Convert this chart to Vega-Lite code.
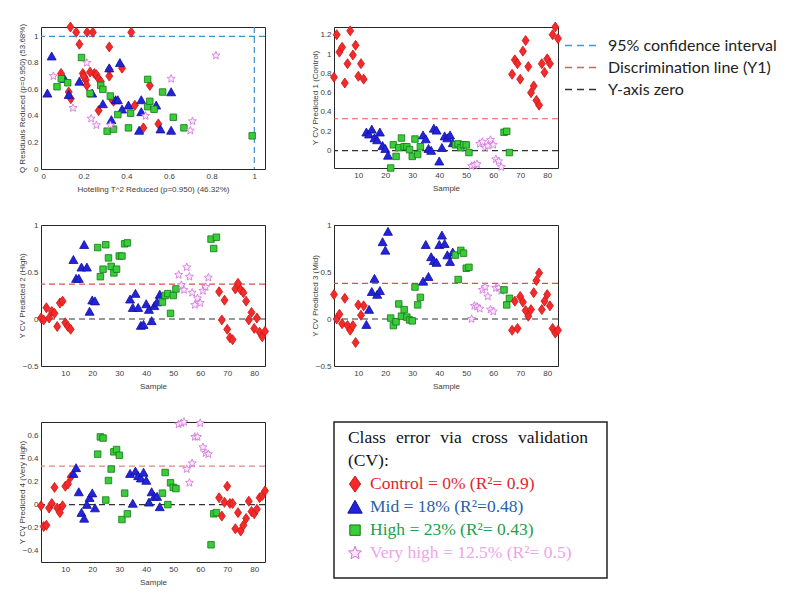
{
  "$schema": "https://vega.github.io/schema/vega-lite/v6.json",
  "padding": {"left": 17, "top": 19, "right": 0, "bottom": 0},
  "background": "white",
  "config": {
    "font": "Liberation Sans",
    "numberFormat": ".2~f",
    "view": {"stroke": "#262626", "strokeWidth": 1},
    "axis": {"grid": false, "domain": false, "ticks": false, "labelFontSize": 8, "titleFontSize": 8, "labelColor": "#404040", "titleColor": "#404040", "titleFontWeight": "normal", "labelPadding": 3},
    "axisX": {"titlePadding": 5},
    "axisY": {"minExtent": 14, "maxExtent": 14, "titlePadding": 1},
    "point": {"filled": true, "opacity": 1, "strokeWidth": 0.8, "size": 100}
  },
  "datasets": {
    "samples": [
      {"sample": 1, "cls": "Control", "p1": 0.76, "p2": 0.01, "p3": 0.26, "p4": -0.01},
      {"sample": 2, "cls": "Control", "p1": 1.20, "p2": -0.01, "p3": 0.00, "p4": -0.19},
      {"sample": 3, "cls": "Control", "p1": 1.02, "p2": 0.12, "p3": 0.05, "p4": -0.18},
      {"sample": 4, "cls": "Control", "p1": 1.07, "p2": 0.01, "p3": -0.05, "p4": -0.03},
      {"sample": 5, "cls": "Control", "p1": 0.70, "p2": 0.08, "p3": 0.22, "p4": 0.01},
      {"sample": 6, "cls": "Control", "p1": 0.90, "p2": 0.06, "p3": -0.07, "p4": 0.15},
      {"sample": 7, "cls": "Control", "p1": 1.24, "p2": -0.08, "p3": -0.12, "p4": -0.03},
      {"sample": 8, "cls": "Control", "p1": 0.99, "p2": 0.17, "p3": -0.07, "p4": -0.07},
      {"sample": 9, "cls": "Control", "p1": 1.09, "p2": 0.19, "p3": -0.25, "p4": -0.01},
      {"sample": 10, "cls": "Control", "p1": 0.77, "p2": -0.04, "p3": 0.15, "p4": 0.16},
      {"sample": 11, "cls": "Control", "p1": 0.90, "p2": -0.08, "p3": 0.04, "p4": 0.18},
      {"sample": 12, "cls": "Control", "p1": 0.74, "p2": -0.11, "p3": 0.14, "p4": 0.24},
      {"sample": 13, "cls": "Mid", "p1": 0.19, "p2": 0.63, "p3": -0.06, "p4": 0.27},
      {"sample": 14, "cls": "Mid", "p1": 0.17, "p2": 0.43, "p3": 0.10, "p4": 0.32},
      {"sample": 15, "cls": "Mid", "p1": 0.22, "p2": 0.43, "p3": 0.29, "p4": 0.11},
      {"sample": 16, "cls": "Mid", "p1": 0.13, "p2": 0.55, "p3": 0.43, "p4": -0.07},
      {"sample": 17, "cls": "Mid", "p1": 0.11, "p2": 0.79, "p3": 0.26, "p4": -0.12},
      {"sample": 18, "cls": "Mid", "p1": 0.19, "p2": 0.55, "p3": 0.30, "p4": 0.00},
      {"sample": 19, "cls": "Mid", "p1": 0.05, "p2": 0.08, "p3": 0.82, "p4": 0.06},
      {"sample": 20, "cls": "Mid", "p1": 0.02, "p2": 0.20, "p3": 0.73, "p4": 0.10},
      {"sample": 21, "cls": "Mid", "p1": -0.05, "p2": 0.19, "p3": 0.93, "p4": -0.03},
      {"sample": 22, "cls": "High", "p1": -0.18, "p2": 0.76, "p3": 0.01, "p4": 0.44},
      {"sample": 23, "cls": "High", "p1": 0.06, "p2": 0.45, "p3": -0.07, "p4": 0.59},
      {"sample": 24, "cls": "High", "p1": -0.06, "p2": 0.53, "p3": -0.03, "p4": 0.58},
      {"sample": 25, "cls": "High", "p1": 0.03, "p2": 0.79, "p3": 0.16, "p4": 0.04},
      {"sample": 26, "cls": "High", "p1": 0.13, "p2": 0.65, "p3": 0.03, "p4": 0.21},
      {"sample": 27, "cls": "High", "p1": 0.04, "p2": 0.56, "p3": 0.10, "p4": 0.31},
      {"sample": 28, "cls": "High", "p1": 0.04, "p2": 0.49, "p3": 0.02, "p4": 0.46},
      {"sample": 29, "cls": "High", "p1": 0.01, "p2": 0.53, "p3": -0.01, "p4": 0.48},
      {"sample": 30, "cls": "High", "p1": -0.06, "p2": 0.67, "p3": -0.02, "p4": 0.43},
      {"sample": 31, "cls": "High", "p1": 0.12, "p2": 0.67, "p3": 0.34, "p4": -0.13},
      {"sample": 32, "cls": "High", "p1": -0.04, "p2": 0.80, "p3": 0.15, "p4": 0.10},
      {"sample": 33, "cls": "High", "p1": 0.04, "p2": 0.81, "p3": 0.23, "p4": -0.08},
      {"sample": 34, "cls": "Mid", "p1": 0.16, "p2": 0.21, "p3": 0.40, "p4": 0.27},
      {"sample": 35, "cls": "Mid", "p1": 0.12, "p2": 0.12, "p3": 0.79, "p4": 0.01},
      {"sample": 36, "cls": "Mid", "p1": 0.02, "p2": 0.27, "p3": 0.45, "p4": 0.29},
      {"sample": 37, "cls": "Mid", "p1": 0.00, "p2": 0.12, "p3": 0.66, "p4": 0.25},
      {"sample": 38, "cls": "Mid", "p1": 0.23, "p2": -0.07, "p3": 0.62, "p4": 0.23},
      {"sample": 39, "cls": "Mid", "p1": 0.21, "p2": -0.06, "p3": 0.60, "p4": 0.28},
      {"sample": 40, "cls": "Mid", "p1": -0.11, "p2": 0.16, "p3": 0.79, "p4": 0.21},
      {"sample": 41, "cls": "Mid", "p1": 0.03, "p2": 0.10, "p3": 0.89, "p4": 0.02},
      {"sample": 42, "cls": "Mid", "p1": 0.15, "p2": -0.02, "p3": 0.80, "p4": 0.11},
      {"sample": 43, "cls": "Mid", "p1": 0.13, "p2": 0.14, "p3": 0.68, "p4": 0.07},
      {"sample": 44, "cls": "Mid", "p1": 0.16, "p2": 0.18, "p3": 0.61, "p4": 0.07},
      {"sample": 45, "cls": "Mid", "p1": 0.08, "p2": 0.26, "p3": 0.71, "p4": -0.02},
      {"sample": 46, "cls": "High", "p1": 0.06, "p2": 0.18, "p3": 0.68, "p4": 0.10},
      {"sample": 47, "cls": "High", "p1": 0.07, "p2": 0.25, "p3": 0.42, "p4": 0.28},
      {"sample": 48, "cls": "High", "p1": 0.03, "p2": 0.27, "p3": 0.73, "p4": 0.00},
      {"sample": 49, "cls": "High", "p1": 0.06, "p2": 0.06, "p3": 0.70, "p4": 0.19},
      {"sample": 50, "cls": "High", "p1": 0.06, "p2": 0.25, "p3": 0.54, "p4": 0.15},
      {"sample": 51, "cls": "High", "p1": -0.02, "p2": 0.32, "p3": 0.55, "p4": 0.14},
      {"sample": 52, "cls": "Very high", "p1": -0.16, "p2": 0.47, "p3": 0.00, "p4": 0.70},
      {"sample": 53, "cls": "Very high", "p1": -0.15, "p2": 0.36, "p3": 0.14, "p4": 0.71},
      {"sample": 54, "cls": "Very high", "p1": -0.14, "p2": 0.31, "p3": 0.13, "p4": 0.72},
      {"sample": 55, "cls": "Very high", "p1": 0.07, "p2": 0.55, "p3": 0.11, "p4": 0.31},
      {"sample": 56, "cls": "Very high", "p1": 0.09, "p2": 0.45, "p3": 0.31, "p4": 0.19},
      {"sample": 57, "cls": "Very high", "p1": 0.03, "p2": 0.28, "p3": 0.34, "p4": 0.36},
      {"sample": 58, "cls": "Very high", "p1": 0.05, "p2": 0.15, "p3": 0.24, "p4": 0.59},
      {"sample": 59, "cls": "Very high", "p1": 0.11, "p2": 0.22, "p3": 0.10, "p4": 0.59},
      {"sample": 60, "cls": "Very high", "p1": 0.06, "p2": 0.17, "p3": 0.08, "p4": 0.71},
      {"sample": 61, "cls": "Very high", "p1": -0.09, "p2": 0.30, "p3": 0.33, "p4": 0.50},
      {"sample": 62, "cls": "Very high", "p1": -0.11, "p2": 0.34, "p3": 0.33, "p4": 0.45},
      {"sample": 63, "cls": "Very high", "p1": -0.17, "p2": 0.44, "p3": 0.30, "p4": 0.44},
      {"sample": 64, "cls": "High", "p1": 0.19, "p2": 0.85, "p3": 0.31, "p4": -0.35},
      {"sample": 65, "cls": "High", "p1": 0.20, "p2": 0.75, "p3": 0.15, "p4": -0.08},
      {"sample": 66, "cls": "High", "p1": -0.02, "p2": 0.87, "p3": 0.22, "p4": -0.07},
      {"sample": 67, "cls": "Control", "p1": 0.79, "p2": 0.29, "p3": -0.12, "p4": 0.06},
      {"sample": 68, "cls": "Control", "p1": 0.94, "p2": -0.01, "p3": 0.19, "p4": -0.10},
      {"sample": 69, "cls": "Control", "p1": 0.90, "p2": 0.20, "p3": -0.10, "p4": 0.02},
      {"sample": 70, "cls": "Control", "p1": 0.74, "p2": -0.11, "p3": 0.24, "p4": 0.16},
      {"sample": 71, "cls": "Control", "p1": 1.03, "p2": -0.20, "p3": 0.18, "p4": 0.01},
      {"sample": 72, "cls": "Control", "p1": 1.14, "p2": -0.22, "p3": 0.09, "p4": 0.01},
      {"sample": 73, "cls": "Control", "p1": 0.87, "p2": 0.32, "p3": 0.03, "p4": -0.21},
      {"sample": 74, "cls": "Control", "p1": 0.60, "p2": 0.38, "p3": 0.10, "p4": -0.07},
      {"sample": 75, "cls": "Control", "p1": 0.67, "p2": 0.31, "p3": 0.28, "p4": -0.23},
      {"sample": 76, "cls": "Control", "p1": 0.52, "p2": 0.28, "p3": 0.41, "p4": -0.18},
      {"sample": 77, "cls": "Control", "p1": 0.47, "p2": 0.19, "p3": 0.49, "p4": -0.12},
      {"sample": 78, "cls": "Control", "p1": 0.90, "p2": -0.01, "p3": 0.10, "p4": 0.03},
      {"sample": 79, "cls": "Control", "p1": 0.81, "p2": 0.07, "p3": 0.19, "p4": -0.06},
      {"sample": 80, "cls": "Control", "p1": 0.95, "p2": -0.10, "p3": 0.26, "p4": -0.08},
      {"sample": 81, "cls": "Control", "p1": 0.90, "p2": 0.01, "p3": 0.14, "p4": -0.04},
      {"sample": 82, "cls": "Control", "p1": 1.20, "p2": -0.14, "p3": -0.10, "p4": 0.06},
      {"sample": 83, "cls": "Control", "p1": 1.28, "p2": -0.19, "p3": -0.15, "p4": 0.08},
      {"sample": 84, "cls": "Control", "p1": 1.16, "p2": -0.13, "p3": -0.12, "p4": 0.12}
    ],
    "scatter": [
      {"cls": "Control", "t2": 0.138, "q": 1.07}, {"cls": "Control", "t2": 0.165, "q": 1.03},
      {"cls": "Control", "t2": 0.216, "q": 1.03}, {"cls": "Control", "t2": 0.243, "q": 1.03},
      {"cls": "Control", "t2": 0.423, "q": 1.03}, {"cls": "Control", "t2": 0.18, "q": 0.94},
      {"cls": "Control", "t2": 0.32, "q": 0.92}, {"cls": "Control", "t2": 0.094, "q": 0.72},
      {"cls": "Control", "t2": 0.196, "q": 0.72}, {"cls": "Control", "t2": 0.204, "q": 0.69},
      {"cls": "Control", "t2": 0.21, "q": 0.67}, {"cls": "Control", "t2": 0.215, "q": 0.63},
      {"cls": "Control", "t2": 0.25, "q": 0.72}, {"cls": "Control", "t2": 0.26, "q": 0.71},
      {"cls": "Control", "t2": 0.27, "q": 0.68}, {"cls": "Control", "t2": 0.28, "q": 0.66},
      {"cls": "Control", "t2": 0.32, "q": 0.70}, {"cls": "Control", "t2": 0.38, "q": 0.76},
      {"cls": "Control", "t2": 0.13, "q": 0.58}, {"cls": "Control", "t2": 0.14, "q": 0.53},
      {"cls": "Control", "t2": 0.27, "q": 0.44}, {"cls": "Control", "t2": 0.33, "q": 0.53},
      {"cls": "Control", "t2": 0.34, "q": 0.51}, {"cls": "Control", "t2": 0.44, "q": 0.48},
      {"cls": "Control", "t2": 0.48, "q": 0.31}, {"cls": "Control", "t2": 0.51, "q": 0.63},
      {"cls": "Control", "t2": 0.55, "q": 0.34}, {"cls": "Control", "t2": 0.20, "q": 0.70},
      {"cls": "Control", "t2": 0.23, "q": 0.73}, {"cls": "Control", "t2": 0.32, "q": 0.75},
      {"cls": "Mid", "t2": 0.03, "q": 0.57}, {"cls": "Mid", "t2": 0.05, "q": 0.85},
      {"cls": "Mid", "t2": 0.11, "q": 0.68}, {"cls": "Mid", "t2": 0.13, "q": 0.56},
      {"cls": "Mid", "t2": 0.18, "q": 0.66}, {"cls": "Mid", "t2": 0.24, "q": 0.57},
      {"cls": "Mid", "t2": 0.29, "q": 0.49}, {"cls": "Mid", "t2": 0.32, "q": 0.76},
      {"cls": "Mid", "t2": 0.33, "q": 0.37}, {"cls": "Mid", "t2": 0.35, "q": 0.52},
      {"cls": "Mid", "t2": 0.36, "q": 0.52}, {"cls": "Mid", "t2": 0.37, "q": 0.80},
      {"cls": "Mid", "t2": 0.38, "q": 0.45}, {"cls": "Mid", "t2": 0.41, "q": 0.48},
      {"cls": "Mid", "t2": 0.46, "q": 0.29}, {"cls": "Mid", "t2": 0.47, "q": 0.43},
      {"cls": "Mid", "t2": 0.47, "q": 0.52}, {"cls": "Mid", "t2": 0.54, "q": 0.48},
      {"cls": "Mid", "t2": 0.56, "q": 0.30}, {"cls": "Mid", "t2": 0.61, "q": 0.58},
      {"cls": "Mid", "t2": 0.61, "q": 0.29},
      {"cls": "High", "t2": 0.075, "q": 0.62}, {"cls": "High", "t2": 0.095, "q": 0.68},
      {"cls": "High", "t2": 0.125, "q": 0.65}, {"cls": "High", "t2": 0.19, "q": 0.84},
      {"cls": "High", "t2": 0.23, "q": 0.57}, {"cls": "High", "t2": 0.28, "q": 0.63},
      {"cls": "High", "t2": 0.29, "q": 0.60}, {"cls": "High", "t2": 0.31, "q": 0.285},
      {"cls": "High", "t2": 0.325, "q": 0.55}, {"cls": "High", "t2": 0.34, "q": 0.30},
      {"cls": "High", "t2": 0.36, "q": 0.41}, {"cls": "High", "t2": 0.41, "q": 0.31},
      {"cls": "High", "t2": 0.42, "q": 0.42}, {"cls": "High", "t2": 0.50, "q": 0.675},
      {"cls": "High", "t2": 0.50, "q": 0.47}, {"cls": "High", "t2": 0.51, "q": 0.51},
      {"cls": "High", "t2": 0.53, "q": 0.45}, {"cls": "High", "t2": 0.57, "q": 0.58},
      {"cls": "High", "t2": 0.62, "q": 0.39}, {"cls": "High", "t2": 0.67, "q": 0.31},
      {"cls": "High", "t2": 0.99, "q": 0.25},
      {"cls": "Very high", "t2": 0.058, "q": 0.70}, {"cls": "Very high", "t2": 0.15, "q": 0.46},
      {"cls": "Very high", "t2": 0.215, "q": 0.80}, {"cls": "Very high", "t2": 0.235, "q": 0.38},
      {"cls": "Very high", "t2": 0.26, "q": 0.33}, {"cls": "Very high", "t2": 0.325, "q": 0.33},
      {"cls": "Very high", "t2": 0.49, "q": 0.40}, {"cls": "Very high", "t2": 0.61, "q": 0.68},
      {"cls": "Very high", "t2": 0.70, "q": 0.29}, {"cls": "Very high", "t2": 0.71, "q": 0.36},
      {"cls": "Very high", "t2": 0.82, "q": 0.855}
    ],
    "refs": [
      {"panel": "Scatter", "line": "95% confidence interval", "x": 1},
      {"panel": "Scatter", "line": "95% confidence interval", "y": 1},
      {"panel": "Control", "line": "Discrimination line (Y1)", "y": 0.33},
      {"panel": "Control", "line": "Y-axis zero", "y": 0},
      {"panel": "High", "line": "Discrimination line (Y1)", "y": 0.37},
      {"panel": "High", "line": "Y-axis zero", "y": 0},
      {"panel": "Mid", "line": "Discrimination line (Y1)", "y": 0.38},
      {"panel": "Mid", "line": "Y-axis zero", "y": 0},
      {"panel": "Very high", "line": "Discrimination line (Y1)", "y": 0.335},
      {"panel": "Very high", "line": "Y-axis zero", "y": 0}
    ],
    "box": [
      {"line": 1, "label": "Class\u2002\u200aerror\u2002\u200avia\u2002\u200across\u2002\u200avalidation"},
      {"line": 2, "label": "(CV):"},
      {"line": 3, "cls": "Control", "label": "Control = 0% (R\u00b2= 0.9)"},
      {"line": 4, "cls": "Mid", "label": "Mid = 18% (R\u00b2=0.48)"},
      {"line": 5, "cls": "High", "label": "High = 23% (R\u00b2= 0.43)"},
      {"line": 6, "cls": "Very high", "label": "Very high = 12.5% (R\u00b2= 0.5)"}
    ]
  },
  "columns": 2,
  "bounds": "flush",
  "spacing": {"row": 56, "column": 69},
  "resolve": {"scale": {"color": "independent"}, "legend": {"color": "independent"}},
  "concat": [
    {
      "width": 224, "height": 142,
      "layer": [
        {
          "data": {"name": "refs"},
          "transform": [{"filter": "datum.panel == 'Scatter' && isValid(datum.y)"}],
          "mark": {"type": "rule", "strokeDash": [6, 4], "strokeWidth": 1.2},
          "encoding": {
            "y": {"field": "y", "type": "quantitative", "scale": {"domain": [0, 1.07], "nice": false, "zero": false}, "axis": {"title": "Q Residuals Reduced (p=0.950) (53.68%)", "values": [0, 0.2, 0.4, 0.6, 0.8, 1]}},
            "color": {"field": "line", "type": "nominal", "scale": {"domain": ["95% confidence interval", "Discrimination line (Y1)", "Y-axis zero"], "range": ["#3f8fc8", "#e84a4a", "#333333"]}, "legend": null}
          }
        },
        {
          "data": {"name": "refs"},
          "transform": [{"filter": "datum.panel == 'Scatter' && isValid(datum.x)"}],
          "mark": {"type": "rule", "strokeDash": [6, 4], "strokeWidth": 1.2},
          "encoding": {
            "x": {"field": "x", "type": "quantitative", "scale": {"domain": [0, 1.05], "nice": false, "zero": false}, "axis": {"title": "Hotelling T^2 Reduced (p=0.950) (46.32%)", "values": [0, 0.2, 0.4, 0.6, 0.8, 1]}},
            "color": {"field": "line", "type": "nominal", "legend": null}
          }
        },
        {
          "data": {"name": "scatter"},
          "mark": {"type": "point"},
          "encoding": {
            "x": {"field": "t2", "type": "quantitative", "axis": {"title": "Hotelling T^2 Reduced (p=0.950) (46.32%)", "values": [0, 0.2, 0.4, 0.6, 0.8, 1]}},
            "y": {"field": "q", "type": "quantitative", "axis": {"title": "Q Residuals Reduced (p=0.950) (53.68%)", "values": [0, 0.2, 0.4, 0.6, 0.8, 1]}},
            "fill": {"field": "cls", "type": "nominal", "scale": {"domain": ["Control", "Mid", "High", "Very high"], "range": ["#f42a2a", "#2323dd", "#3acc3a", "#fbe8fb"]}, "legend": null},
            "stroke": {"field": "cls", "type": "nominal", "scale": {"domain": ["Control", "Mid", "High", "Very high"], "range": ["#c81818", "#10109a", "#137a13", "#d070dc"]}, "legend": null},
            "shape": {"field": "cls", "type": "nominal", "scale": {"domain": ["Control", "Mid", "High", "Very high"], "range": ["M0,-1L0.7,0L0,1L-0.7,0Z", "M0,-0.85L0.9,0.75L-0.9,0.75Z", "M-0.65,-0.65L0.65,-0.65L0.65,0.65L-0.65,0.65Z", "M0,-0.85L0.225,-0.309L0.808,-0.263L0.364,0.118L0.5,0.688L0,0.383L-0.5,0.688L-0.364,0.118L-0.808,-0.263L-0.225,-0.309Z"]}, "legend": null}
          }
        }
      ]
    },
    {
      "width": 224, "height": 141,
      "layer": [
        {
          "data": {"name": "refs"},
          "transform": [{"filter": "datum.panel == 'Control'"}],
          "mark": {"type": "rule", "strokeDash": [6, 4], "strokeWidth": 1.2},
          "encoding": {
            "y": {"field": "y", "type": "quantitative", "scale": {"domain": [-0.18, 1.28], "nice": false, "zero": false}, "axis": {"title": "Y CV Predicted 1 (Control)", "values": [0, 0.2, 0.4, 0.6, 0.8, 1, 1.2]}},
            "color": {"field": "line", "type": "nominal", "scale": {"domain": ["95% confidence interval", "Discrimination line (Y1)", "Y-axis zero"], "range": ["#4b95cf", "#e65a5a", "#333333"]},
              "legend": {"orient": "none", "legendX": 239, "legendY": 9, "title": null, "symbolType": "M-2,0L2,0", "symbolSize": 306, "symbolStrokeWidth": 1.5, "symbolDash": [7, 5], "labelFont": "Lato", "labelFontSize": 16, "labelLimit": 260, "labelColor": "#222222", "labelOffset": 16, "rowPadding": 4}}
          }
        },
        {
          "data": {"name": "samples"},
          "mark": {"type": "point"},
          "encoding": {
            "x": {"field": "sample", "type": "quantitative", "scale": {"domain": [1, 84], "nice": false, "zero": false}, "axis": {"title": "Sample", "values": [10, 20, 30, 40, 50, 60, 70, 80]}},
            "y": {"field": "p1", "type": "quantitative", "axis": {"title": "Y CV Predicted 1 (Control)", "values": [0, 0.2, 0.4, 0.6, 0.8, 1, 1.2]}},
            "fill": {"field": "cls", "type": "nominal", "legend": null},
            "stroke": {"field": "cls", "type": "nominal", "legend": null},
            "shape": {"field": "cls", "type": "nominal", "legend": null}
          }
        }
      ]
    },
    {
      "width": 224, "height": 141,
      "layer": [
        {
          "data": {"name": "refs"},
          "transform": [{"filter": "datum.panel == 'High'"}],
          "mark": {"type": "rule", "strokeDash": [6, 4], "strokeWidth": 1.2},
          "encoding": {
            "y": {"field": "y", "type": "quantitative", "scale": {"domain": [-0.5, 1], "nice": false, "zero": false}, "axis": {"title": "Y CV Predicted 2 (High)", "values": [-0.5, 0, 0.5, 1]}},
            "color": {"field": "line", "type": "nominal", "scale": {"domain": ["95% confidence interval", "Discrimination line (Y1)", "Y-axis zero"], "range": ["#3f8fc8", "#e84a4a", "#333333"]}, "legend": null}
          }
        },
        {
          "data": {"name": "samples"},
          "mark": {"type": "point"},
          "encoding": {
            "x": {"field": "sample", "type": "quantitative", "scale": {"domain": [1, 84], "nice": false, "zero": false}, "axis": {"title": "Sample", "values": [10, 20, 30, 40, 50, 60, 70, 80]}},
            "y": {"field": "p2", "type": "quantitative", "axis": {"title": "Y CV Predicted 2 (High)", "values": [-0.5, 0, 0.5, 1]}},
            "fill": {"field": "cls", "type": "nominal", "legend": null},
            "stroke": {"field": "cls", "type": "nominal", "legend": null},
            "shape": {"field": "cls", "type": "nominal", "legend": null}
          }
        }
      ]
    },
    {
      "width": 224, "height": 141,
      "layer": [
        {
          "data": {"name": "refs"},
          "transform": [{"filter": "datum.panel == 'Mid'"}],
          "mark": {"type": "rule", "strokeDash": [6, 4], "strokeWidth": 1.2},
          "encoding": {
            "y": {"field": "y", "type": "quantitative", "scale": {"domain": [-0.5, 1], "nice": false, "zero": false}, "axis": {"title": "Y CV Predicted 3 (Mid)", "values": [-0.5, 0, 0.5, 1]}},
            "color": {"field": "line", "type": "nominal", "scale": {"domain": ["95% confidence interval", "Discrimination line (Y1)", "Y-axis zero"], "range": ["#3f8fc8", "#e84a4a", "#333333"]}, "legend": null}
          }
        },
        {
          "data": {"name": "samples"},
          "mark": {"type": "point"},
          "encoding": {
            "x": {"field": "sample", "type": "quantitative", "scale": {"domain": [1, 84], "nice": false, "zero": false}, "axis": {"title": "Sample", "values": [10, 20, 30, 40, 50, 60, 70, 80]}},
            "y": {"field": "p3", "type": "quantitative", "axis": {"title": "Y CV Predicted 3 (Mid)", "values": [-0.5, 0, 0.5, 1]}},
            "fill": {"field": "cls", "type": "nominal", "legend": null},
            "stroke": {"field": "cls", "type": "nominal", "legend": null},
            "shape": {"field": "cls", "type": "nominal", "legend": null}
          }
        }
      ]
    },
    {
      "width": 224, "height": 140,
      "layer": [
        {
          "data": {"name": "refs"},
          "transform": [{"filter": "datum.panel == 'Very high'"}],
          "mark": {"type": "rule", "strokeDash": [6, 4], "strokeWidth": 1.2},
          "encoding": {
            "y": {"field": "y", "type": "quantitative", "scale": {"domain": [-0.5, 0.72], "nice": false, "zero": false}, "axis": {"title": "Y CV Predicted 4 (Very High)", "values": [-0.4, -0.2, 0, 0.2, 0.4, 0.6]}},
            "color": {"field": "line", "type": "nominal", "scale": {"domain": ["95% confidence interval", "Discrimination line (Y1)", "Y-axis zero"], "range": ["#3f8fc8", "#e08686", "#333333"]}, "legend": null}
          }
        },
        {
          "data": {"name": "samples"},
          "mark": {"type": "point"},
          "encoding": {
            "x": {"field": "sample", "type": "quantitative", "scale": {"domain": [1, 84], "nice": false, "zero": false}, "axis": {"title": "Sample", "values": [10, 20, 30, 40, 50, 60, 70, 80]}},
            "y": {"field": "p4", "type": "quantitative", "axis": {"title": "Y CV Predicted 4 (Very High)", "values": [-0.4, -0.2, 0, 0.2, 0.4, 0.6]}},
            "fill": {"field": "cls", "type": "nominal", "legend": null},
            "stroke": {"field": "cls", "type": "nominal", "legend": null},
            "shape": {"field": "cls", "type": "nominal", "legend": null}
          }
        }
      ]
    },
    {
      "width": 273, "height": 156,
      "view": {"stroke": "#222222", "strokeWidth": 1.5},
      "data": {"name": "box"},
      "encoding": {
        "y": {"field": "line", "type": "quantitative", "scale": {"domain": [0.3, 7.08], "reverse": true, "nice": false, "zero": false}, "axis": null}
      },
      "layer": [
        {
          "transform": [{"filter": "datum.line <= 2"}],
          "mark": {"type": "text", "align": "left", "baseline": "middle", "font": "Liberation Serif", "fontSize": 17.5, "color": "#111111"},
          "encoding": {
            "x": {"datum": 0.051, "type": "quantitative", "scale": {"domain": [0, 1], "nice": false, "zero": false}, "axis": null},
            "text": {"field": "label"}
          }
        },
        {
          "transform": [{"filter": "datum.line > 2"}],
          "mark": {"type": "point", "size": 256, "strokeWidth": 1},
          "encoding": {
            "x": {"datum": 0.077, "type": "quantitative"},
            "fill": {"field": "cls", "type": "nominal", "legend": null},
            "stroke": {"field": "cls", "type": "nominal", "legend": null},
            "shape": {"field": "cls", "type": "nominal", "legend": null}
          }
        },
        {
          "transform": [{"filter": "datum.line > 2"}],
          "mark": {"type": "text", "align": "left", "baseline": "middle", "font": "Liberation Serif", "fontSize": 17.5},
          "encoding": {
            "x": {"datum": 0.132, "type": "quantitative"},
            "text": {"field": "label"},
            "color": {"field": "cls", "type": "nominal", "scale": {"domain": ["Control", "Mid", "High", "Very high"], "range": ["#e3262b", "#2a62a6", "#22a04b", "#f0a3ea"]}, "legend": null}
          }
        }
      ]
    }
  ]
}
